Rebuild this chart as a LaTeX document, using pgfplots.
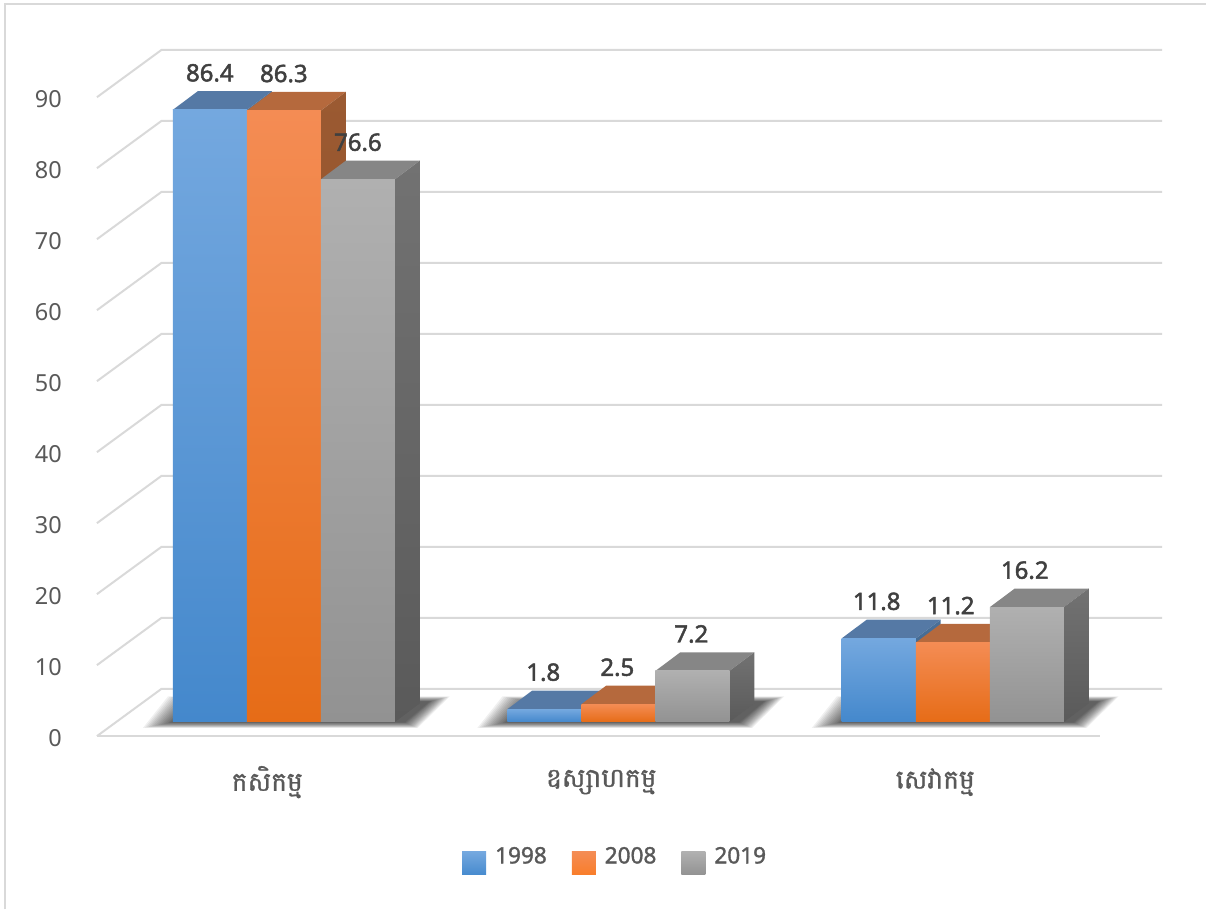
\documentclass[border=0pt]{standalone}
\usepackage{pgfplots}
\pgfplotsset{compat=1.18}
\usepackage{fontspec}
\setmainfont{Noto Sans}
\newfontfamily\khmerfont[Script=Khmer,FakeBold=1.0]{Battambang}
\newfontfamily\semifont[FakeBold=2.0]{Noto Sans}
\newfontfamily\legfont[FakeBold=1.5]{Noto Sans}
\definecolor{gridc}{HTML}{D9D9D9}
\definecolor{tickc}{HTML}{595959}
\definecolor{valc}{HTML}{404040}
% px -> axis conversion: c=(px-267.5)/334.3 ; y=(722.5-py)/7.09
\newcommand\shadowlayer[2]{% group, t
  \pgfmathsetmacro\sxa{(143+29*#2+334.7*#1-267.5)/334.3}
  \pgfmathsetmacro\sxb{(168+27*#2+334.7*#1-267.5)/334.3}
  \pgfmathsetmacro\sxc{(450-20*#2+334.7*#1-267.5)/334.3}
  \pgfmathsetmacro\sxd{(418-13*#2+334.7*#1-267.5)/334.3}
  \pgfmathsetmacro\sya{(722.5-728.5+5.5*#2)/7.09}
  \pgfmathsetmacro\syb{(722.5-697-5*#2)/7.09}
  \addplot[forget plot,draw=none,fill=black,fill opacity=0.06]
    coordinates {(\sxa,\sya) (\sxb,\syb) (\sxc,\syb) (\sxd,\sya)} --cycle;
}
\newcommand\shadow[1]{%
  \shadowlayer{#1}{0}\shadowlayer{#1}{0.07}\shadowlayer{#1}{0.14}\shadowlayer{#1}{0.21}%
  \shadowlayer{#1}{0.28}\shadowlayer{#1}{0.35}\shadowlayer{#1}{0.42}\shadowlayer{#1}{0.49}%
  \shadowlayer{#1}{0.56}\shadowlayer{#1}{0.63}\shadowlayer{#1}{0.70}\shadowlayer{#1}{0.77}%
  \shadowlayer{#1}{0.84}\shadowlayer{#1}{0.88}\shadowlayer{#1}{0.94}\shadowlayer{#1}{1}}
% group, series, value, colour name prefix
\newcommand\tdbar[4]{%
  \pgfmathsetmacro\xa{(173+334.7*#1+74.1*#2-267.5)/334.3}
  \pgfmathsetmacro\xb{\xa+74.1/334.3}
  \pgfmathsetmacro\xc{\xa+25/334.3}
  \pgfmathsetmacro\xd{\xb+25/334.3}
  \pgfmathsetmacro\xm{\xa+(37-1*#1)/334.3}
  \pgfmathsetmacro\yt{#3+18.7/7.09}
  \pgfmathsetmacro\yb{18.7/7.09}
  \addplot[forget plot,draw=none,fill=#4top]
    coordinates {(\xa,#3) (\xc,\yt) (\xd,\yt) (\xb,#3)} --cycle;
  \addplot[forget plot,draw=none,top color=#4sideA,bottom color=#4sideB]
    coordinates {(\xb,0) (\xb,#3) (\xd,\yt) (\xd,\yb)} --cycle;
  \addplot[forget plot,draw=none,top color=#4A,middle color=#4B,bottom color=#4C]
    coordinates {(\xa,0) (\xa,#3) (\xb,#3) (\xb,0)} --cycle;
  \addplot[forget plot,draw=none,mark=none,nodes near coords={#3},
    nodes near coords style={anchor=center,yshift=37pt,text=valc,
      font=\semifont\fontsize{24}{24}\selectfont,inner sep=0pt}]
    coordinates {(\xm,#3)};
}
\definecolor{bluA}{HTML}{74A8DF}\definecolor{bluB}{HTML}{5B9FE2}\definecolor{bluC}{HTML}{4488CC}
\definecolor{blutop}{HTML}{5579A5}\definecolor{blusideA}{HTML}{4A7099}\definecolor{blusideB}{HTML}{355A80}
\definecolor{oraA}{HTML}{F48C54}\definecolor{oraB}{HTML}{FB7F2C}\definecolor{oraC}{HTML}{E66C17}
\definecolor{oratop}{HTML}{B5693D}\definecolor{orasideA}{HTML}{9B5A32}\definecolor{orasideB}{HTML}{8A4A20}
\definecolor{graA}{HTML}{B0B0B0}\definecolor{graB}{HTML}{A5A5A5}\definecolor{graC}{HTML}{929292}
\definecolor{gratop}{HTML}{868686}\definecolor{grasideA}{HTML}{727272}\definecolor{grasideB}{HTML}{5A5A5A}
\begin{document}
\begin{tikzpicture}
\begin{axis}[
  scale only axis,
  width=1004pt,height=687.73pt,
  xmin=-0.51,xmax=2.4935,ymin=-2,ymax=95,
  clip=false,
  axis x line*=bottom,axis y line*=left,
  x axis line style={draw=gridc,line width=2pt},
  y axis line style={draw=none},
  tick style={draw=none},
  major tick length=0pt,
  xtick={0,1,2},
  xticklabels={{\khmerfont កសិកម្ម},{\khmerfont ឧស្សាហកម្ម},{\khmerfont សេវាកម្ម}},
  xticklabel style={anchor=center,yshift=-46pt,text=tickc,font=\fontsize{26.5}{26.5}\selectfont},
  ytick={-2,8.02,18.04,28.06,38.08,48.10,58.12,68.14,78.16,88.18},
  yticklabels={0,10,20,30,40,50,60,70,80,90},
  yticklabel style={anchor=east,xshift=-35pt,yshift=-1.5pt,inner sep=0pt,text=tickc,font=\fontsize{23.5}{24}\selectfont},
  legend style={at={(rel axis cs:0.5165,-0.1802)},anchor=center,draw=none,fill=none,
    legend columns=3,font=\legfont\fontsize{22.6}{22.6}\selectfont,text=tickc,
    /tikz/every odd column/.append style={column sep=7pt},
    /tikz/every even column/.append style={column sep=23pt}},
]
% page extent and frame
\path (axis cs:-0.80018,101.904) rectangle (axis cs:2.8103,-26.446);
\draw[gridc,line width=2pt] (axis cs:-0.78522,-26.446) -- (axis cs:-0.78522,101.34) -- (axis cs:2.8103,101.34);
% legend
\addlegendimage{legend image code/.code={\path[draw=none,top color=bluA,bottom color=bluC!90!bluB] (0pt,-19pt) rectangle (24pt,4pt);}}
\addlegendentry{1998}
\addlegendimage{legend image code/.code={\path[draw=none,top color=oraA,bottom color=oraB!90!oraC] (0pt,-19pt) rectangle (24pt,4pt);}}
\addlegendentry{2008}
\addlegendimage{legend image code/.code={\path[draw=none,top color=graA,bottom color=graC] (0pt,-19pt) rectangle (24pt,4pt);}}
\addlegendentry{2019}
% wall grid
\addplot[forget plot,gridc,line width=2pt,unbounded coords=jump] coordinates {
(-0.51,-2) (-0.3165,4.685) (2.6787,4.685) (nan,nan)
(-0.51,8.02) (-0.3165,14.705) (2.6787,14.705) (nan,nan)
(-0.51,18.04) (-0.3165,24.725) (2.6787,24.725) (nan,nan)
(-0.51,28.06) (-0.3165,34.745) (2.6787,34.745) (nan,nan)
(-0.51,38.08) (-0.3165,44.765) (2.6787,44.765) (nan,nan)
(-0.51,48.10) (-0.3165,54.785) (2.6787,54.785) (nan,nan)
(-0.51,58.12) (-0.3165,64.805) (2.6787,64.805) (nan,nan)
(-0.51,68.14) (-0.3165,74.825) (2.6787,74.825) (nan,nan)
(-0.51,78.16) (-0.3165,84.845) (2.6787,84.845) (nan,nan)
(-0.51,88.18) (-0.3165,94.865) (2.6787,94.865)
};
\shadow{0}\shadow{1}\shadow{2}
\tdbar{0}{0}{86.4}{blu}
\tdbar{0}{1}{86.3}{ora}
\tdbar{0}{2}{76.6}{gra}
\tdbar{1}{0}{1.8}{blu}
\tdbar{1}{1}{2.5}{ora}
\tdbar{1}{2}{7.2}{gra}
\tdbar{2}{0}{11.8}{blu}
\tdbar{2}{1}{11.2}{ora}
\tdbar{2}{2}{16.2}{gra}
\end{axis}
\end{tikzpicture}
\end{document}
